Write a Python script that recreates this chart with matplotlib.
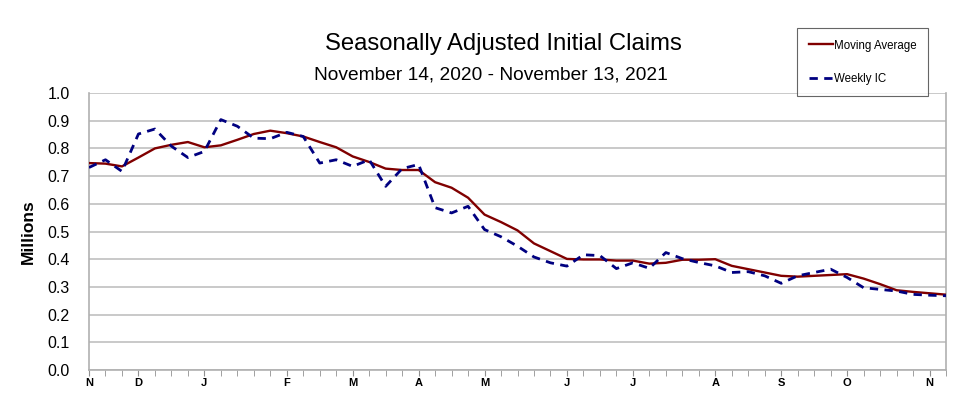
import matplotlib
matplotlib.use("Agg")
import matplotlib.pyplot as plt
import numpy as np

plt.rcParams['font.family'] = ['Liberation Sans', 'DejaVu Sans']

weekly_ic = [0.731, 0.759, 0.717, 0.852, 0.870, 0.808, 0.767, 0.789, 0.904, 0.880,
             0.837, 0.835, 0.858, 0.843, 0.747, 0.759, 0.735, 0.759, 0.663, 0.727,
             0.742, 0.586, 0.567, 0.591, 0.507, 0.481, 0.447, 0.408, 0.387, 0.375,
             0.416, 0.413, 0.366, 0.387, 0.367, 0.424, 0.402, 0.388, 0.376, 0.352,
             0.355, 0.340, 0.313, 0.340, 0.352, 0.364, 0.334, 0.297, 0.291, 0.285,
             0.273, 0.270, 0.268]
moving_avg = [0.747, 0.745, 0.735, 0.767, 0.800, 0.813, 0.823, 0.804, 0.811, 0.831,
              0.852, 0.864, 0.855, 0.843, 0.823, 0.804, 0.771, 0.751, 0.727, 0.722,
              0.722, 0.678, 0.658, 0.622, 0.561, 0.534, 0.504, 0.457, 0.429, 0.401,
              0.399, 0.399, 0.395, 0.395, 0.384, 0.387, 0.398, 0.398, 0.400, 0.376,
              0.364, 0.352, 0.340, 0.337, 0.340, 0.343, 0.346, 0.330, 0.310, 0.288,
              0.282, 0.277, 0.272]
month_labels = ['N', 'D', 'J', 'F', 'M', 'A', 'M', 'J', 'J', 'A', 'S', 'O', 'N']
month_idx = [0, 3, 7, 12, 16, 20, 24, 29, 33, 38, 42, 46, 51]
y_ticks = [0.0, 0.1, 0.2, 0.3, 0.4, 0.5, 0.6, 0.7, 0.8, 0.9, 1.0]

fig = plt.figure(figsize=(9.67, 3.97), dpi=100)
ax = fig.add_axes([89/967, 1 - 370/397, (946-89)/967, (370-93)/397])

x = np.arange(len(weekly_ic))
ax.plot(x, moving_avg, color='#800000', lw=1.7, label='Moving Average', zorder=3)
ax.plot(x, weekly_ic, color='#000080', lw=2.0, ls=(0, (3, 2.3)), label='Weekly IC', zorder=4)

ax.set_xlim(0, len(weekly_ic) - 1)
ax.set_ylim(0, 1.0)
ax.set_yticks(y_ticks)
ax.set_yticklabels([f'{v:.1f}' for v in y_ticks], fontsize=11.5)
ax.yaxis.grid(True, color='#c0c0c0', lw=1.2)
ax.set_axisbelow(True)
ax.tick_params(axis='y', length=0, pad=14)

ax.set_xticks(x, minor=True)
ax.set_xticks(month_idx)
ax.set_xticklabels(month_labels, fontsize=8, fontweight='bold')
ax.tick_params(axis='x', which='both', length=4, color='#909090', direction='out', pad=2)

ax.spines['top'].set_visible(False)
for s in ['left', 'bottom', 'right']:
    ax.spines[s].set_color('#b0b0b0')
    ax.spines[s].set_linewidth(1.2)

ax.set_ylabel('Millions', fontsize=12.5, fontweight='bold', labelpad=8)

fig.text(503/967, 1 - 44/397, 'Seasonally Adjusted Initial Claims', ha='center', va='center', fontsize=17.2)
fig.text(491/967, 1 - 75/397, 'November 14, 2020 - November 13, 2021', ha='center', va='center', fontsize=13.8)

leg = fig.legend(loc='upper left', bbox_to_anchor=(797/967, 1 - 28/397), fontsize=8.3,
                 frameon=True, fancybox=False, edgecolor='#404040', handlelength=2.1,
                 labelspacing=1.85, borderpad=1.0, handletextpad=0.1, borderaxespad=0)
leg.get_frame().set_linewidth(0.8)

fig.savefig('out.png', dpi=100)
